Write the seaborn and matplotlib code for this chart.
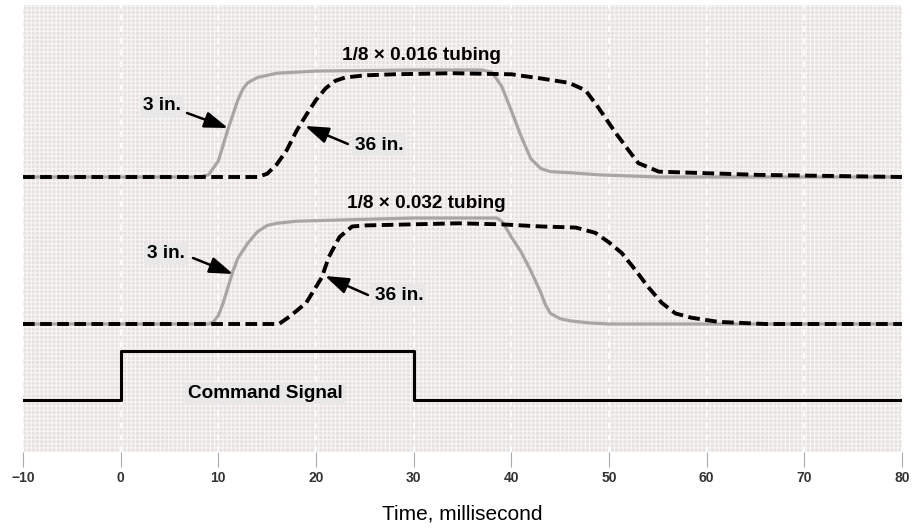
import numpy as np
import pandas as pd
import matplotlib
matplotlib.use("Agg")
import matplotlib.pyplot as plt
from matplotlib.patches import Rectangle
import seaborn as sns

# ---------------- data (normalized response 0..1, time in ms) ----------------
t_016_3in = [-10, 8, 9, 10, 11, 12, 12.5, 13, 14, 16, 20, 30, 37, 38, 39, 40, 41, 42, 43, 44, 46, 49, 55, 80]
r_016_3in = [0, 0, 0.02, 0.15, 0.45, 0.72, 0.82, 0.88, 0.93, 0.97, 0.99, 1.0, 1.0, 0.98, 0.85, 0.62, 0.38, 0.17, 0.08, 0.05, 0.04, 0.02, 0.0, 0.0]

t_016_36in = [-10, 14, 15, 16, 17, 18, 19, 20, 21, 22, 23, 25, 28, 34, 40, 43.1, 45.9, 47.6, 48.9, 50.7, 52.0, 53.0, 55.1, 58.4, 65.3, 80]
r_016_36in = [0, 0, 0.03, 0.12, 0.25, 0.43, 0.58, 0.72, 0.83, 0.90, 0.93, 0.95, 0.96, 0.97, 0.96, 0.92, 0.88, 0.81, 0.65, 0.41, 0.25, 0.13, 0.05, 0.04, 0.02, 0.0]

t_032_3in = [-10, 9, 9.5, 10, 10.5, 11, 11.5, 12, 13, 14, 15, 16, 18, 22, 30, 38.5, 39, 39.5, 40, 41, 42, 43, 43.5, 44, 45, 46, 48, 50, 80]
r_032_3in = [0, 0, 0.02, 0.08, 0.2, 0.35, 0.5, 0.62, 0.76, 0.87, 0.93, 0.95, 0.97, 0.98, 1.0, 1.0, 0.97, 0.9, 0.82, 0.68, 0.5, 0.3, 0.18, 0.1, 0.05, 0.03, 0.01, 0.0, 0.0]

t_032_36in = [-10, 16.2, 17.3, 19.0, 20.6, 21.3, 22.4, 23.7, 25.1, 34.6, 39, 43.1, 46.6, 48.6, 50.0, 51.3, 52.7, 54.0, 55.4, 56.8, 58.4, 61.2, 66, 80]
r_032_36in = [0, 0, 0.07, 0.2, 0.44, 0.63, 0.82, 0.92, 0.93, 0.95, 0.94, 0.92, 0.91, 0.86, 0.77, 0.67, 0.51, 0.35, 0.2, 0.10, 0.06, 0.02, 0.0, 0.0]

t_command = [-10, 0, 30, 80]
r_command = [0, 1, 0, 0]

x_ticks = [-10, 0, 10, 20, 30, 40, 50, 60, 70, 80]
x_ticklabels = ["\u221210", "0", "10", "20", "30", "40", "50", "60", "70", "80"]

labels_tubing = ["1/8 \u00d7 0.016 tubing", "1/8 \u00d7 0.032 tubing"]
label_short = "3 in."
label_long = "36 in."
label_cmd = "Command Signal"
x_label = "Time, millisecond"

# ---------------- layout (vertical stacking of the traces) ----------------
BASE_016, AMP_016 = 275, 107
BASE_032, AMP_032 = 128, 106
BASE_CMD, AMP_CMD = 52, 49

sns.set_theme(style="white")
plt.rcParams["font.family"] = ["Liberation Sans", "DejaVu Sans"]
plt.rcParams["hatch.linewidth"] = 0.9

fig = plt.figure(figsize=(9.21, 5.29), dpi=100)
ax = fig.add_axes([23 / 921, 77 / 529, 879 / 921, 447 / 529])
ax.set_facecolor("#e6e1de")
# fine light lattice texture of the original background
ax.add_patch(Rectangle((0, 0), 1, 1, transform=ax.transAxes, fill=False,
                       hatch="++++", edgecolor="#f7f5f4", lw=0, zorder=0.2))

GREY = "#a9a5a2"
DASH = (0, (3.0, 1.4))


def frame(t, r, base, amp):
    return pd.DataFrame({"t": np.asarray(t, float), "y": base + amp * np.asarray(r, float)})


# white dashed gridlines
for xv in x_ticks:
    ax.axvline(xv, color="white", lw=1.4, ls=(0, (3, 3)), alpha=0.9, zorder=0.5)

for base, amp, (t3, r3), (t36, r36) in [
    (BASE_016, AMP_016, (t_016_3in, r_016_3in), (t_016_36in, r_016_36in)),
    (BASE_032, AMP_032, (t_032_3in, r_032_3in), (t_032_36in, r_032_36in)),
]:
    sns.lineplot(data=frame(t3, r3, base, amp), x="t", y="y", ax=ax, color=GREY,
                 lw=2.3, estimator=None, sort=False, zorder=2)
    sns.lineplot(data=frame(t36, r36, base, amp), x="t", y="y", ax=ax, color="black",
                 lw=2.8, linestyle=DASH, estimator=None, sort=False, zorder=3)

sns.lineplot(data=frame(t_command, r_command, BASE_CMD, AMP_CMD), x="t", y="y", ax=ax,
             color="black", lw=2.2, drawstyle="steps-post", estimator=None, sort=False, zorder=3)

ax.set_xlim(-10, 80)
ax.set_ylim(0, 447)
ax.set_yticks([])
ax.set_xticks(x_ticks)
ax.set_xticklabels(x_ticklabels, fontsize=10, fontweight="bold", color="#333333")
ax.tick_params(axis="x", direction="out", length=11, width=0.8, color="#aaaaaa", pad=3, bottom=True)
for s in ax.spines.values():
    s.set_visible(False)
ax.set_xlabel(x_label, fontsize=15, labelpad=14, color="black")
ax.set_ylabel("")

box = dict(boxstyle="square,pad=0.15", fc="#e8e8e8", ec="none")
tkw = dict(fontsize=13.7, fontweight="bold", ha="center", va="center", color="black", zorder=5)

ax.text(30.75, 397, labels_tubing[0], **tkw)
ax.text(31.26, 249, labels_tubing[1], **tkw)
ax.text(4.18, 346, label_short, bbox=box, **tkw)
ax.text(26.45, 307, label_long, bbox=box, **tkw)
ax.text(4.59, 198, label_short, bbox=box, **tkw)
ax.text(28.5, 157, label_long, bbox=box, **tkw)
ax.text(14.78, 59, label_cmd, bbox=box, **tkw)

arrow = dict(arrowstyle="-|>,head_length=1.1,head_width=0.38", color="black", lw=1.8,
             shrinkA=0, shrinkB=0, mutation_scale=13)
for tail, tip in [((6.79, 339), (10.99, 324)),
                  ((23.27, 308), (18.87, 326)),
                  ((7.41, 194), (11.5, 178)),
                  ((25.32, 157), (20.92, 176))]:
    ax.annotate("", xy=tip, xytext=tail, arrowprops=arrow, zorder=6)

fig.savefig("out.png", dpi=100)
